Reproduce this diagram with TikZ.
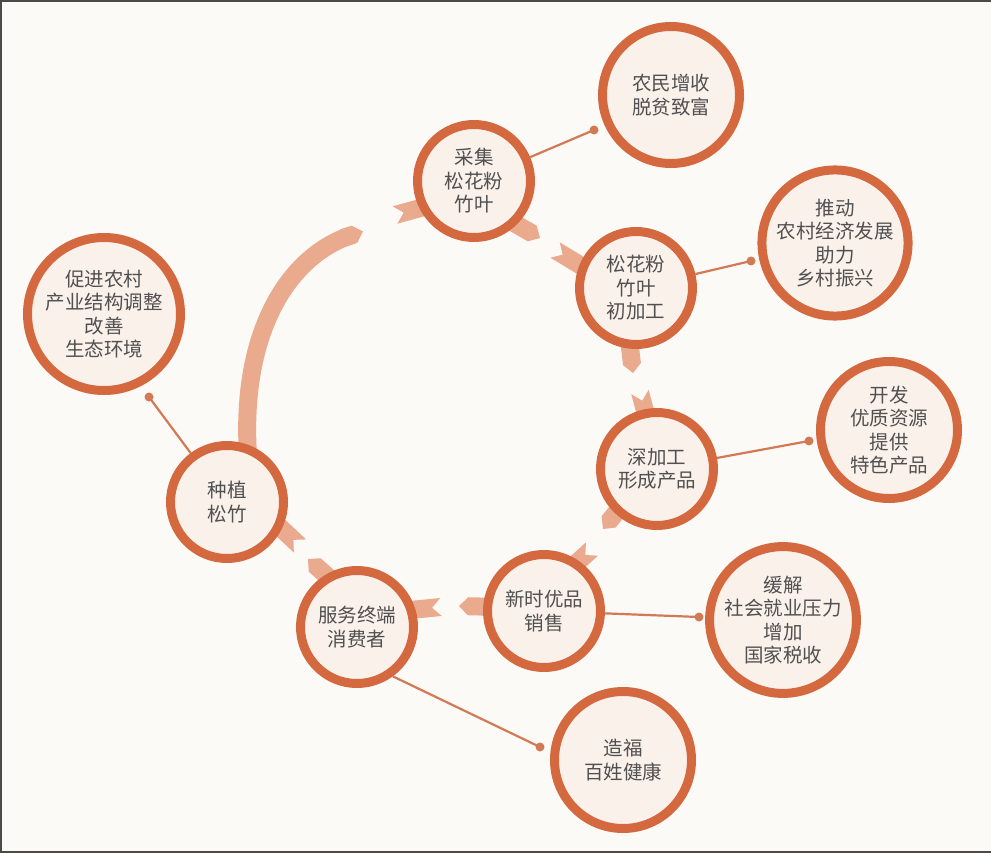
\documentclass[tikz,border=0pt]{standalone}
\usepackage{fontspec}
\newfontfamily\cjk{Noto Sans CJK SC}
\usetikzlibrary{calc}
\definecolor{bgc}{HTML}{FCFAF7}
\definecolor{ringc}{HTML}{D4693F}
\definecolor{fillc}{HTML}{FBF1EB}
\definecolor{ribc}{HTML}{E9AA8D}
\definecolor{linkc}{HTML}{D27A55}
\definecolor{txtc}{HTML}{505050}
\definecolor{framec}{HTML}{4A4A4A}
\pgfdeclarelayer{back}
\pgfdeclarelayer{mid}
\pgfsetlayers{back,mid,main}
% ribbon piece with pointed end at #2, starting at #1
\newcommand\rtip[2]{%
  \coordinate (rtB) at ($(#2)!9pt!(#1)$);
  \fill[ribbon] ($(#1)!9pt!90:(#2)$) -- ($(rtB)!9pt!-90:(#1)$) -- (#2)
     -- ($(rtB)!9pt!90:(#1)$) -- ($(#1)!9pt!-90:(#2)$) -- cycle;}
% ribbon piece with swallow-tail notch at #1, running to #2
\newcommand\rnotch[2]{%
  \fill[ribbon] ($(#1)!9pt!90:(#2)$) -- ($(#1)!9pt!(#2)$) -- ($(#1)!9pt!-90:(#2)$)
     -- ($(#2)!9pt!90:(#1)$) -- ($(#2)!9pt!-90:(#1)$) -- cycle;}
\begin{document}
\begin{tikzpicture}[x=1pt,y=-1pt,
  inner/.style={circle, draw=ringc, fill=fillc, line width=9pt, minimum size=113pt,
    inner sep=0pt, align=center, text=txtc, font=\cjk\fontsize{19.5}{23.5}\selectfont},
  outer/.style={inner, minimum size=137pt},
  big/.style={inner, minimum size=153pt},
  link/.style={draw=linkc, line width=2.2pt},
  ribbon/.style={fill=ribc}]
\useasboundingbox (0,0) rectangle (991,853);
% nodes
\node[inner] (caiji) at (474,181) {采集\\松花粉\\竹叶};
\node[inner] (chujia) at (636,288) {松花粉\\竹叶\\初加工};
\node[inner] (shenjia) at (657,469) {深加工\\形成产品};
\node[inner] (xinshi) at (544,611) {新时优品\\销售};
\node[inner] (fuwu) at (357,627) {服务终端\\消费者};
\node[inner] (zhongzhi) at (227,502) {种植\\松竹};
\node[outer] (nongmin) at (671,95) {农民增收\\脱贫致富};
\node[outer] (tuidong) at (835,243) {推动\\农村经济发展\\助力\\乡村振兴};
\node[outer] (kaifa) at (889,430) {开发\\优质资源\\提供\\特色产品};
\node[outer] (huanjie) at (783,620) {缓解\\社会就业压力\\增加\\国家税收};
\node[outer] (zaofu) at (623,760) {造福\\百姓健康};
\node[big] (cujin) at (104,314) {促进农村\\产业结构调整\\改善\\生态环境};
% background and frame
\begin{pgfonlayer}{back}
  \fill[bgc] (0,0) rectangle (991,853);
  \draw[framec, line width=4pt] (0,853) -- (0,0) -- (991,0);
  \draw[framec, line width=4pt] (0,853) -- (991,853);
  % big arc from zhongzhi to caiji
  \draw[ribc, line width=18pt] (248,455) .. controls (240,330) and (290,255) .. (352,235);
  \coordinate (a0) at (343,238);
  \coordinate (a1) at (363,231.5);
  \rtip{a0}{a1}
  \coordinate (n1e) at (395,215);  \coordinate (n1p) at (435,204);
  \rnotch{n1e}{n1p}
  \coordinate (t2p) at (500,215);  \coordinate (t2e) at (540,238);
  \rtip{t2p}{t2e}
  \coordinate (n3e) at (555,250);  \coordinate (n3p) at (598,276);
  \rnotch{n3e}{n3p}
  \coordinate (t4p) at (628,330);  \coordinate (t4e) at (633,373);
  \rtip{t4p}{t4e}
  \coordinate (n5e) at (640,392);  \coordinate (n5p) at (650,430);
  \rnotch{n5e}{n5p}
  \coordinate (t6p) at (630,495);  \coordinate (t6e) at (603,529);
  \rtip{t6p}{t6e}
  \coordinate (n7e) at (592,549);  \coordinate (n7p) at (560,578);
  \rnotch{n7e}{n7p}
  \coordinate (t8p) at (500,607);  \coordinate (t8e) at (459,606);
  \rtip{t8p}{t8e}
  \coordinate (n9e) at (441,607);  \coordinate (n9p) at (400,611);
  \rnotch{n9e}{n9p}
  \coordinate (t10p) at (345,592); \coordinate (t10e) at (308,559);
  \rtip{t10p}{t10e}
  \coordinate (n11e) at (300,546); \coordinate (n11p) at (268,516);
  \rnotch{n11e}{n11p}
\end{pgfonlayer}
% links with dots
\coordinate (d1) at (594,130);
\coordinate (d2) at (751,261);
\coordinate (d3) at (809,441);
\coordinate (d4) at (699,617);
\coordinate (d5) at (540,747);
\coordinate (d6) at (149,397);
\begin{pgfonlayer}{mid}
  \draw[link] (caiji) -- (d1);
  \draw[link] (chujia) -- (d2);
  \draw[link] (shenjia) -- (d3);
  \draw[link] (xinshi.center) -- (d4);
  \draw[link] (fuwu.-54) -- (d5);
  \draw[link] (zhongzhi) -- (d6);
  \foreach \d in {d1,d2,d3,d4,d5,d6} \fill[linkc] (\d) circle (4.5);
\end{pgfonlayer}
\end{tikzpicture}
\end{document}
